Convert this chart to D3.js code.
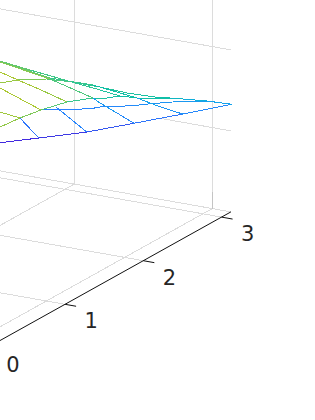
<!DOCTYPE html>
<html>
<head>
<meta charset="utf-8">
<script src="https://d3js.org/d3.v7.min.js"></script>
<style>
  html, body { margin: 0; padding: 0; background: #fff; overflow: hidden; }
</style>
</head>
<body>
<div id="chart"></div>
<script>
const width = 315;
const height = 420;

const xTicks = [0, 1, 2, 3];
const xTickLabels = ['0', '1', '2', '3'];
const xMax = 3.12;
const yGrid = [0.135, 1.135];
const zGrid = [0, 1, 2];
// the middle wall line goes behind the surface, so it stops early
const zGridEnd = [2, 0.5, 2];

// visible pieces of the mesh, in projected units (along x, height)
const meshX = [
  [0.169, 0.663, 1.277, 1.881, 2.503, 3.13],
  [0.693, 1.038, 1.357, 1.447, 1.868, 2.060, 2.380, 2.686, 2.916, 3.13],
  [0.169, 0.424, 0.693, 1.025, 1.357, 1.536, 1.702, 1.920, 2.341, 2.507, 2.814, 3.13],
  [0.169, 0.552, 1.089, 1.447, 1.792, 2.150, 2.341],
  [0.169, 0.399, 0.769, 1.089, 1.447, 1.702],
  [0.169, 0.808, 1.357, 1.920, 2.188, 2.503],
  [0.169, 0.808, 1.357, 1.447, 1.664, 1.881],
  [0.169, 0.399, 0.693, 1.025],
  [0.884, 1.277],
  [0.169, 0.693],
  [0.169, 0.424],
  [0.424, 0.663],
];
const meshZ = [
  [2.527, 2.585, 2.659, 2.767, 2.881, 3.001],
  [2.931, 2.931, 2.952, 2.968, 2.984, 3.005, 3.030, 3.042, 3.030, 3.001],
  [2.721, 2.832, 2.931, 3.030, 3.079, 3.079, 3.104, 3.079, 3.079, 3.067, 3.042, 3.001],
  [3.536, 3.425, 3.276, 3.214, 3.141, 3.091, 3.079],
  [3.264, 3.301, 3.314, 3.276, 3.178, 3.104],
  [3.536, 3.326, 3.239, 3.079, 2.980, 2.881],
  [3.523, 3.314, 3.079, 3.017, 2.894, 2.767],
  [3.400, 3.301, 3.178, 3.030],
  [2.968, 2.659],
  [3.202, 2.931],
  [2.906, 2.832],
  [2.832, 2.585],
];
// one colour value per segment
const meshC = [
  [0.02, 0.06, 0.14, 0.22, 0.28],
  [0.25, 0.26, 0.27, 0.28, 0.30, 0.32, 0.34, 0.36, 0.36],
  [0.85, 0.78, 0.70, 0.62, 0.55, 0.52, 0.50, 0.50, 0.46, 0.42, 0.38],
  [0.72, 0.65, 0.60, 0.56, 0.53, 0.50],
  [0.88, 0.78, 0.68, 0.60, 0.55],
  [0.72, 0.62, 0.50, 0.38, 0.32],
  [0.80, 0.68, 0.36, 0.34, 0.28],
  [0.98, 0.95, 0.88],
  [0.27],
  [0.98],
  [0.92],
  [0.22],
];

const colorStops = [0, 0.25, 0.4, 0.5, 0.65, 0.8, 1];
const colorRange = ['#4422dd', '#2a80ff', '#10a8e8', '#10bfa8', '#40c888', '#88c850', '#b0c830'];

const meshColor = d3.scaleLinear().domain(colorStops).range(colorRange);

// the box is an oblique projection, so each data axis gets its own pair of scales
const xToLeft = d3.scaleLinear().domain([0, 3]).range([-13.2, 221.55]);
const xToTop = d3.scaleLinear().domain([0, 3]).range([347.9, 217.1]);
const yToLeft = d3.scaleLinear().domain([0, 1]).range([0, -138]);
const yToTop = d3.scaleLinear().domain([0, 1]).range([0, -24.5]);
const zToTop = d3.scaleLinear().domain([0, 1]).range([0, -81]);
const meshTop = d3.scaleLinear().domain([0, 3]).range([347.4, 104.4]);

function project(x, y, z) {
  return [xToLeft(x) + yToLeft(y), xToTop(x) + yToTop(y) + zToTop(z)];
}

const svg = d3.select('#chart').append('svg')
  .attr('width', width)
  .attr('height', height)
  .style('display', 'block');

const grid = svg.append('g')
  .attr('fill', 'none')
  .attr('stroke', '#dcdcdc')
  .attr('stroke-width', 1)
  .attr('shape-rendering', 'crispEdges');

function gridLine(a, b, colour) {
  grid.append('path')
    .attr('d', d3.line()([a, b]))
    .attr('stroke', colour || null);
}

// floor
xTicks.forEach(t => gridLine(project(t, 0, 0), project(t, 2, 0)));
yGrid.forEach(y => gridLine(project(-0.5, y, 0), project(xMax, y, 0)));
// back walls
zGrid.forEach((z, i) => gridLine(project(xMax, 0, z), project(xMax, zGridEnd[i], z)));
yGrid.forEach(y => gridLine(project(xMax, y, 0), project(xMax, y, 3)));
gridLine(project(xMax, yGrid[0], 0), project(xMax, yGrid[0], 0.2), '#c4c4c4');

// surface
const mesh = svg.append('g')
  .attr('fill', 'none')
  .attr('stroke-width', 1)
  .attr('shape-rendering', 'crispEdges');

meshX.forEach((xs, i) => {
  meshC[i].forEach((c, j) => {
    mesh.append('line')
      .attr('x1', xToLeft(xs[j]))
      .attr('y1', meshTop(meshZ[i][j]))
      .attr('x2', xToLeft(xs[j + 1]))
      .attr('y2', meshTop(meshZ[i][j + 1]))
      .attr('stroke', meshColor(c));
  });
});

// x axis
const axis = svg.append('g')
  .attr('fill', 'none')
  .attr('stroke', '#111')
  .attr('stroke-width', 1);

axis.append('path').attr('d', d3.line()([project(0, 0, 0), project(xMax, 0, 0)]));

xTicks.forEach(t => {
  axis.append('path').attr('d', d3.line()([project(t, 0, 0), project(t, -0.08, 0)]));
});

svg.append('g')
  .selectAll('text')
  .data(xTicks)
  .join('text')
  .attr('x', d => project(d, -0.19, 0)[0])
  .attr('y', d => project(d, -0.19, 0)[1])
  .attr('dy', 19.5)
  .attr('text-anchor', 'middle')
  .attr('font-family', '"DejaVu Sans", sans-serif')
  .attr('font-size', 21)
  .attr('fill', '#262626')
  .text((d, i) => xTickLabels[i]);
</script>
</body>
</html>
